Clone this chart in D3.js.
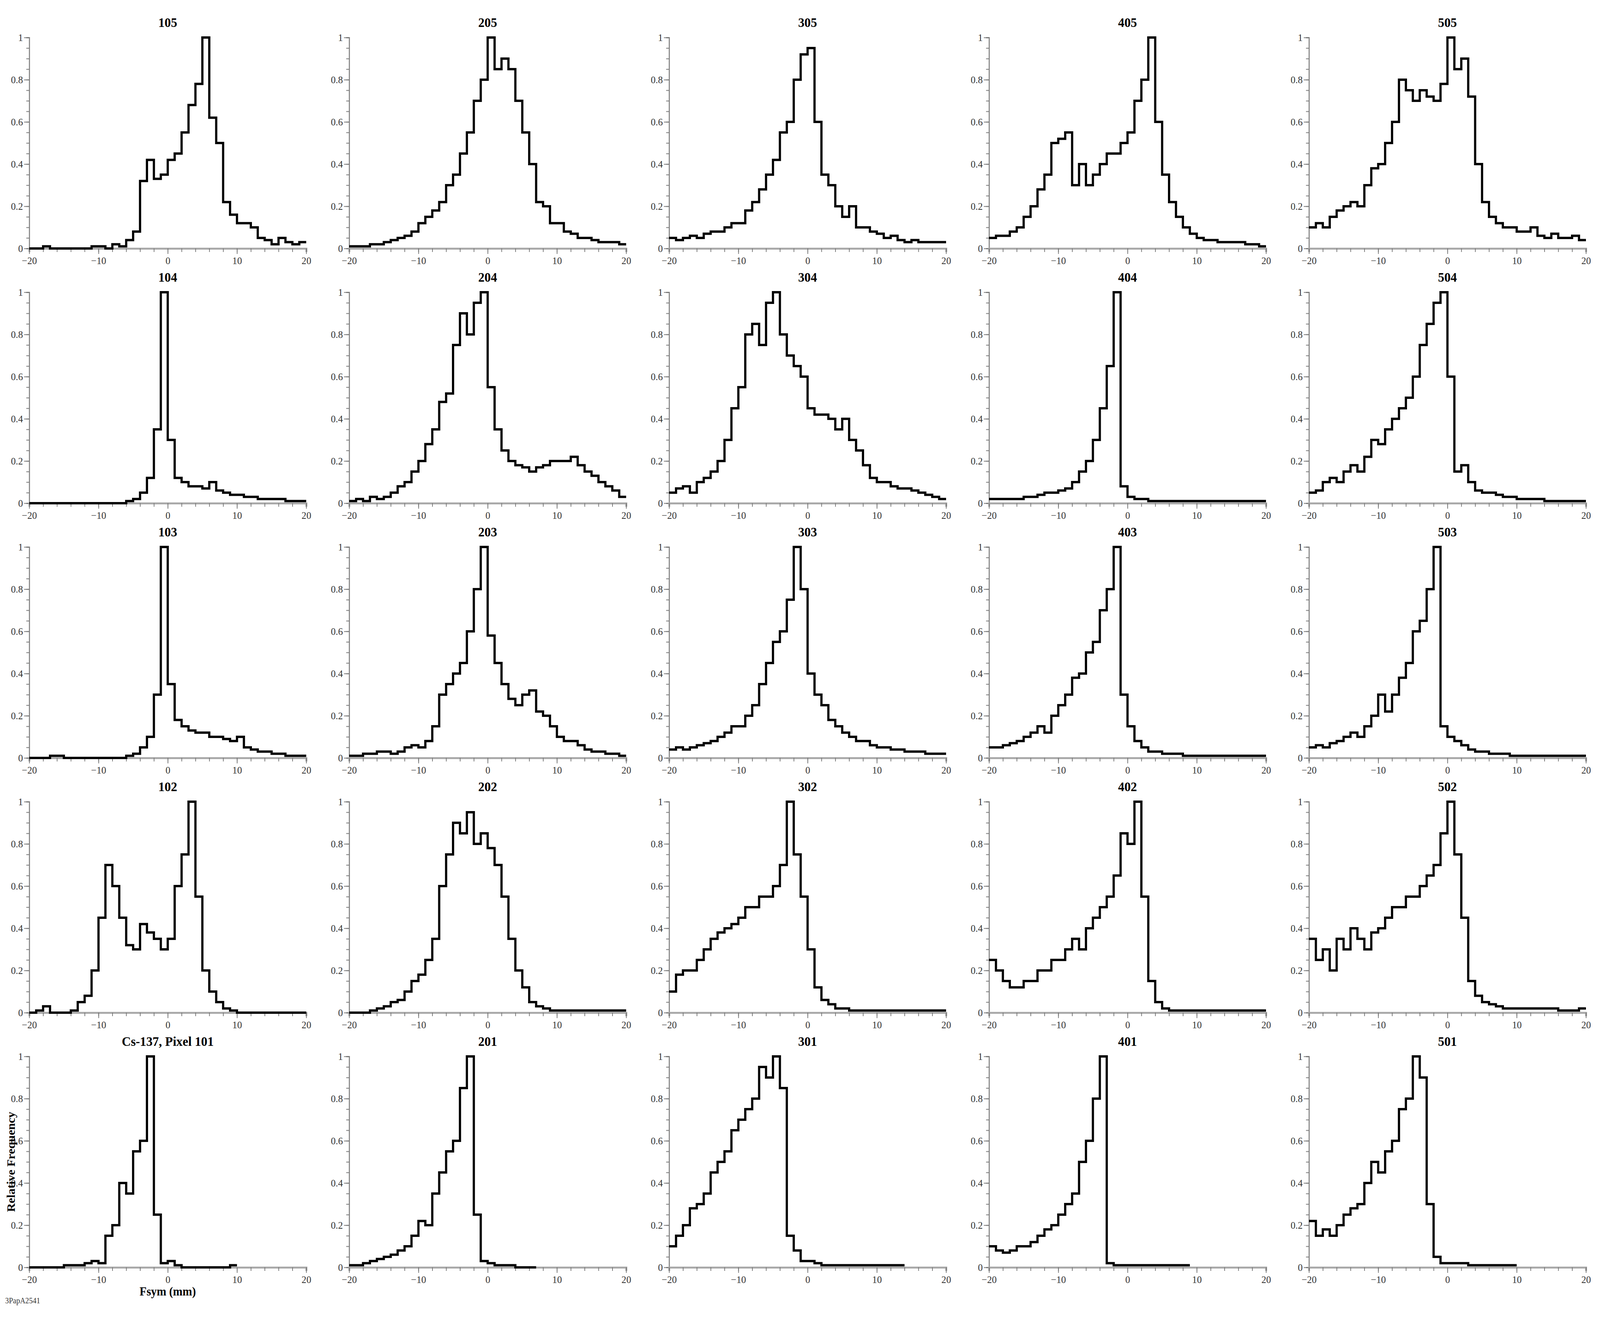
<!DOCTYPE html>
<html>
<head>
<meta charset="utf-8">
<script src="https://cdn.jsdelivr.net/npm/d3@7"></script>
<style>
  html, body { margin: 0; background: #fff; overflow: hidden; }
  svg { display: block; width: 100vw; height: 100vh; }
  text { font-family: "Liberation Serif", "DejaVu Serif", serif; }
</style>
</head>
<body>
<script>
// bins of 1 mm, starting at -20 .. 19 (null = no data)
const binStarts = d3.range(-20, 20);
const xTickLabels = [-20, -10, 0, 10, 20];
const yTickLabels = [0, 0.2, 0.4, 0.6, 0.8, 1];

const p105 = [0,0,0.01,0,0,0,0,0,0,0.01, 0.01,0,0.02,0.01,0.04,0.08,0.32,0.42,0.33,0.35, 0.42,0.45,0.55,0.68,0.78,1.0,0.62,0.5,0.22,0.16, 0.12,0.12,0.1,0.05,0.04,0.02,0.05,0.03,0.02,0.03];
const p205 = [0.01,0.01,0.01,0.02,0.02,0.03,0.04,0.05,0.06,0.08, 0.12,0.15,0.18,0.22,0.3,0.35,0.45,0.55,0.7,0.8, 1.0,0.85,0.9,0.85,0.7,0.55,0.4,0.22,0.2,0.12, 0.12,0.08,0.07,0.05,0.05,0.04,0.03,0.03,0.03,0.02];
const p305 = [0.05,0.04,0.05,0.06,0.05,0.07,0.08,0.08,0.1,0.12, 0.12,0.18,0.22,0.28,0.35,0.42,0.55,0.6,0.8,0.92, 0.95,0.6,0.35,0.3,0.2,0.15,0.2,0.1,0.1,0.08, 0.07,0.05,0.06,0.04,0.03,0.04,0.03,0.03,0.03,0.03];
const p405 = [0.05,0.06,0.06,0.08,0.1,0.15,0.2,0.28,0.35,0.5, 0.52,0.55,0.3,0.4,0.3,0.35,0.4,0.45,0.45,0.5, 0.55,0.7,0.8,1.0,0.6,0.35,0.22,0.15,0.1,0.07, 0.05,0.04,0.04,0.03,0.03,0.03,0.03,0.02,0.02,0.01];
const p505 = [0.1,0.12,0.1,0.15,0.18,0.2,0.22,0.2,0.3,0.38, 0.4,0.5,0.6,0.8,0.75,0.7,0.75,0.72,0.7,0.78, 1.0,0.85,0.9,0.72,0.4,0.22,0.15,0.12,0.1,0.1, 0.08,0.08,0.1,0.06,0.05,0.07,0.05,0.05,0.06,0.04];

const p104 = [0,0,0,0,0,0,0,0,0,0, 0,0,0,0,0.01,0.02,0.05,0.12,0.35,1.0, 0.3,0.12,0.1,0.08,0.08,0.07,0.1,0.06,0.05,0.04, 0.04,0.03,0.03,0.02,0.02,0.02,0.02,0.01,0.01,0.01];
const p204 = [0.01,0.02,0.01,0.03,0.02,0.03,0.05,0.08,0.1,0.15, 0.2,0.28,0.35,0.48,0.52,0.75,0.9,0.8,0.95,1.0, 0.55,0.35,0.25,0.2,0.18,0.17,0.15,0.17,0.18,0.2, 0.2,0.2,0.22,0.18,0.15,0.13,0.1,0.08,0.06,0.03];
const p304 = [0.05,0.07,0.08,0.05,0.1,0.12,0.15,0.2,0.3,0.45, 0.55,0.8,0.85,0.75,0.95,1.0,0.8,0.7,0.65,0.6, 0.45,0.42,0.42,0.4,0.35,0.4,0.3,0.25,0.18,0.12, 0.1,0.1,0.08,0.07,0.07,0.06,0.05,0.04,0.03,0.02];
const p404 = [0.02,0.02,0.02,0.02,0.02,0.03,0.03,0.04,0.05,0.05, 0.06,0.07,0.1,0.15,0.2,0.3,0.45,0.65,1.0,0.08, 0.03,0.02,0.02,0.01,0.01,0.01,0.01,0.01,0.01,0.01, 0.01,0.01,0.01,0.01,0.01,0.01,0.01,0.01,0.01,0.01];
const p504 = [0.05,0.06,0.1,0.12,0.1,0.15,0.18,0.15,0.22,0.3, 0.28,0.35,0.4,0.45,0.5,0.6,0.75,0.85,0.95,1.0, 0.6,0.15,0.18,0.1,0.06,0.05,0.05,0.04,0.03,0.03, 0.02,0.02,0.02,0.02,0.01,0.01,0.01,0.01,0.01,0.01];

const p103 = [0,0,0,0.01,0.01,0,0,0,0,0, 0,0,0,0,0.01,0.02,0.05,0.1,0.3,1.0, 0.35,0.18,0.15,0.13,0.12,0.12,0.1,0.1,0.09,0.08, 0.1,0.05,0.04,0.03,0.03,0.02,0.02,0.01,0.01,0.01];
const p203 = [0.01,0.01,0.02,0.02,0.03,0.03,0.02,0.03,0.05,0.06, 0.05,0.08,0.15,0.3,0.35,0.4,0.45,0.6,0.8,1.0, 0.58,0.45,0.35,0.28,0.25,0.3,0.32,0.22,0.2,0.15, 0.1,0.08,0.08,0.06,0.04,0.03,0.03,0.02,0.02,0.01];
const p303 = [0.04,0.05,0.04,0.05,0.06,0.07,0.08,0.1,0.12,0.15, 0.15,0.2,0.25,0.35,0.45,0.55,0.6,0.75,1.0,0.8, 0.4,0.3,0.25,0.18,0.15,0.12,0.1,0.08,0.08,0.06, 0.05,0.05,0.04,0.04,0.03,0.03,0.03,0.02,0.02,0.02];
const p403 = [0.05,0.05,0.06,0.07,0.08,0.1,0.12,0.15,0.12,0.2, 0.25,0.3,0.38,0.4,0.5,0.55,0.7,0.8,1.0,0.3, 0.15,0.08,0.05,0.03,0.03,0.02,0.02,0.02,0.01,0.01, 0.01,0.01,0.01,0.01,0.01,0.01,0.01,0.01,0.01,0.01];
const p503 = [0.05,0.06,0.05,0.07,0.08,0.1,0.12,0.1,0.15,0.2, 0.3,0.22,0.3,0.38,0.45,0.6,0.65,0.8,1.0,0.15, 0.1,0.08,0.06,0.04,0.03,0.03,0.02,0.02,0.02,0.01, 0.01,0.01,0.01,0.01,0.01,0.01,0.01,0.01,0.01,0.01];

const p102 = [0,0.01,0.03,0,0,0,0.01,0.05,0.08,0.2, 0.45,0.7,0.6,0.45,0.32,0.3,0.42,0.38,0.35,0.3, 0.35,0.6,0.75,1.0,0.55,0.2,0.1,0.05,0.02,0.01, 0,0,0,0,0,0,0,0,0,0];
const p202 = [0,0,0,0.01,0.02,0.03,0.05,0.06,0.1,0.15, 0.18,0.25,0.35,0.6,0.75,0.9,0.85,0.95,0.8,0.85, 0.78,0.7,0.55,0.35,0.2,0.12,0.05,0.03,0.02,0.01, 0.01,0.01,0.01,0.01,0.01,0.01,0.01,0.01,0.01,0.01];
const p302 = [0.1,0.18,0.2,0.2,0.25,0.3,0.35,0.38,0.4,0.42, 0.45,0.5,0.5,0.55,0.55,0.6,0.7,1.0,0.75,0.55, 0.3,0.12,0.06,0.04,0.02,0.02,0.01,0.01,0.01,0.01, 0.01,0.01,0.01,0.01,0.01,0.01,0.01,0.01,0.01,0.01];
const p402 = [0.25,0.2,0.15,0.12,0.12,0.15,0.15,0.2,0.2,0.25, 0.25,0.3,0.35,0.3,0.4,0.45,0.5,0.55,0.65,0.85, 0.8,1.0,0.55,0.15,0.05,0.02,0.01,0.01,0.01,0.01, 0.01,0.01,0.01,0.01,0.01,0.01,0.01,0.01,0.01,0.01];
const p502 = [0.35,0.25,0.3,0.2,0.35,0.3,0.4,0.35,0.3,0.38, 0.4,0.45,0.5,0.5,0.55,0.55,0.6,0.65,0.7,0.85, 1.0,0.75,0.45,0.15,0.08,0.05,0.04,0.03,0.02,0.02, 0.02,0.02,0.02,0.02,0.02,0.02,0.01,0.01,0.01,0.02];

const p101 = [0,0,0,0,0,0.01,0.01,0.01,0.02,0.03, 0.02,0.15,0.2,0.4,0.35,0.55,0.6,1.0,0.25,0.02, 0.03,0.01,0,0,0,0,0,0,0,0.01, null,null,null,null,null,null,null,null,null,null];
const p201 = [0.01,0.01,0.02,0.03,0.04,0.05,0.06,0.08,0.1,0.15, 0.22,0.2,0.35,0.45,0.55,0.6,0.85,1.0,0.25,0.03, 0.02,0.01,0.01,0.01,0,0,0,null,null,null, null,null,null,null,null,null,null,null,null,null];
const p301 = [0.1,0.15,0.2,0.28,0.3,0.35,0.45,0.5,0.55,0.65, 0.7,0.75,0.8,0.95,0.9,1.0,0.85,0.15,0.08,0.03, 0.03,0.02,0.01,0.01,0.01,0.01,0.01,0.01,0.01,0.01, 0.01,0.01,0.01,0.01,null,null,null,null,null,null];
const p401 = [0.1,0.08,0.07,0.08,0.1,0.1,0.12,0.15,0.18,0.2, 0.25,0.3,0.35,0.5,0.6,0.8,1.0,0.02,0.01,0.01, 0.01,0.01,0.01,0.01,0.01,0.01,0.01,0.01,0.01,null, null,null,null,null,null,null,null,null,null,null];
const p501 = [0.22,0.15,0.18,0.15,0.2,0.25,0.28,0.3,0.4,0.5, 0.45,0.55,0.6,0.75,0.8,1.0,0.9,0.3,0.05,0.02, 0.02,0.02,0.02,0.01,0.01,0.01,0.01,0.01,0.01,0.01, null,null,null,null,null,null,null,null,null,null];

const panels = [
  ["105", p105], ["205", p205], ["305", p305], ["405", p405], ["505", p505],
  ["104", p104], ["204", p204], ["304", p304], ["404", p404], ["504", p504],
  ["103", p103], ["203", p203], ["303", p303], ["403", p403], ["503", p503],
  ["102", p102], ["202", p202], ["302", p302], ["402", p402], ["502", p502],
  ["Cs-137, Pixel 101", p101], ["201", p201], ["301", p301], ["401", p401], ["501", p501]
];

const W = 4321, H = 3371;
const left0 = 79, top0 = 96, colStep = 864, rowStep = 652;
const pw = 748, ph = 540;

const svg = d3.select("body").append("svg")
    .attr("viewBox", "0 0 " + W + " " + H).attr("preserveAspectRatio", "none");

const x = d3.scaleLinear().domain([-20, 20]).range([0, pw]);
const y = d3.scaleLinear().domain([0, 1]).range([ph, 0]);

panels.forEach(function(p, i) {
    let col = i % 5, row = Math.floor(i / 5);
    let g = svg.append("g").attr("transform",
        "translate(" + (left0 + col * colStep) + "," + (top0 + row * rowStep) + ")");

    g.append("text").attr("x", pw / 2).attr("y", -27).attr("text-anchor", "middle")
        .attr("font-size", 34).attr("font-weight", "bold").text(p[0]);

    // y axis: minor ticks every 0.05
    let ya = g.append("g").call(d3.axisLeft(y).tickValues(d3.range(0, 1.0001, 0.05))
        .tickSize(8).tickFormat(""));
    ya.selectAll("line").attr("stroke", "#777").attr("stroke-width", 2);
    ya.select(".domain").attr("stroke", "#888").attr("stroke-width", 3);
    let yl = g.append("g").call(d3.axisLeft(y).tickValues(yTickLabels).tickSize(14)
        .tickFormat(d3.format("~g")));
    yl.select(".domain").remove();
    yl.selectAll("line").attr("stroke", "#777").attr("stroke-width", 2);
    yl.selectAll("text").attr("font-size", 26).attr("font-family", "Liberation Serif").attr("fill", "#333");

    let xa = g.append("g").attr("transform", "translate(0," + ph + ")")
        .call(d3.axisBottom(x).tickValues(d3.range(-20, 20.001, 2)).tickSize(9).tickFormat(""));
    xa.selectAll("line").attr("stroke", "#777").attr("stroke-width", 2);
    xa.select(".domain").attr("stroke", "#aaa").attr("stroke-width", 5);
    let xl = g.append("g").attr("transform", "translate(0," + ph + ")")
        .call(d3.axisBottom(x).tickValues(xTickLabels).tickSize(14).tickPadding(8));
    xl.select(".domain").remove();
    xl.selectAll("line").attr("stroke", "#777").attr("stroke-width", 2);
    xl.selectAll("text").attr("font-size", 26).attr("font-family", "Liberation Serif").attr("fill", "#333");

    let vals = p[1];
    let pts = [];
    vals.forEach(function(v, k) { if (v !== null) pts.push([binStarts[k], v]); });
    let last = pts[pts.length - 1];
    pts.push([last[0] + 1, last[1]]);

    let line = d3.line().curve(d3.curveStepAfter)
        .x(function(d) { return x(d[0]); })
        .y(function(d) { return y(d[1]); });
    g.append("path").attr("d", line(pts)).attr("fill", "none")
        .attr("stroke", "#000").attr("stroke-width", 6).attr("stroke-linejoin", "miter");
});

// axis titles on the bottom-left panel
let r5 = top0 + 4 * rowStep;
svg.append("text").attr("transform", "translate(40," + (r5 + ph / 2) + ") rotate(-90)")
    .attr("text-anchor", "middle").attr("font-size", 31).attr("font-weight", "bold")
    .text("Relative Frequency");
svg.append("text").attr("x", left0 + pw / 2).attr("y", r5 + ph + 72)
    .attr("text-anchor", "middle").attr("font-size", 31).attr("font-weight", "bold")
    .text("Fsym (mm)");
svg.append("text").attr("x", 14).attr("y", r5 + ph + 92)
    .attr("font-size", 20).attr("fill", "#333").text("3PapA2541");
</script>
</body>
</html>
